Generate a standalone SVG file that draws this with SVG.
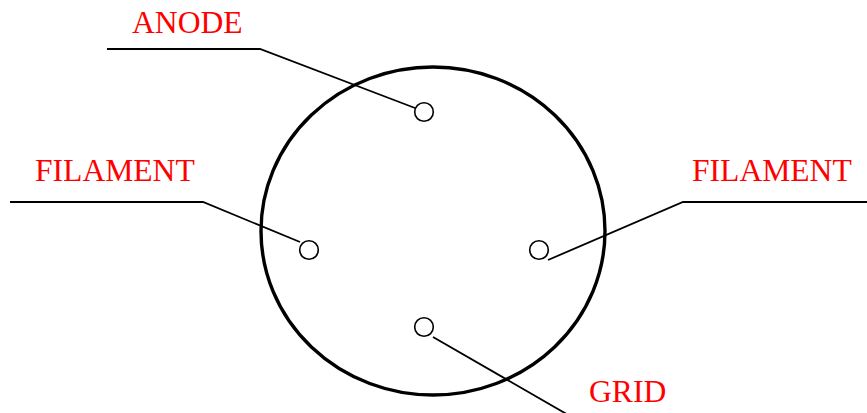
<svg xmlns="http://www.w3.org/2000/svg" width="867" height="413" viewBox="0 0 867 413">
<style>
.lbl{font-family:"Liberation Serif","Times New Roman",serif;font-size:31.6px;fill:#ff0000}
.ld{fill:none;stroke:#000;stroke-width:1.8}
.pin{fill:#fff;stroke:#000;stroke-width:1.6}
</style>
<rect width="867" height="413" fill="#fff"/>
<g id="tube">
<ellipse cx="433" cy="231" rx="172" ry="164" fill="none" stroke="#000" stroke-width="3.4"/>
</g>
<g id="connectors">
<polyline class="ld" points="107,49 260,49 415,108"/>
<polyline class="ld" points="10,202 203,202 300,242"/>
<polyline class="ld" points="867,202 683,202 548,260"/>
<polyline class="ld" points="433,337 570,416"/>
</g>
<g id="anode">
<circle class="pin" cx="424" cy="112" r="9.3"/>
<text class="lbl" x="132" y="33">ANODE</text>
</g>
<g id="filament-left">
<circle class="pin" cx="309" cy="250" r="9.3"/>
<text class="lbl" x="35" y="181">FILAMENT</text>
</g>
<g id="filament-right">
<circle class="pin" cx="539" cy="250" r="9.3"/>
<text class="lbl" x="692" y="181">FILAMENT</text>
</g>
<g id="grid">
<circle class="pin" cx="424" cy="327" r="9.3"/>
<text class="lbl" x="589" y="402">GRID</text>
</g>
</svg>
